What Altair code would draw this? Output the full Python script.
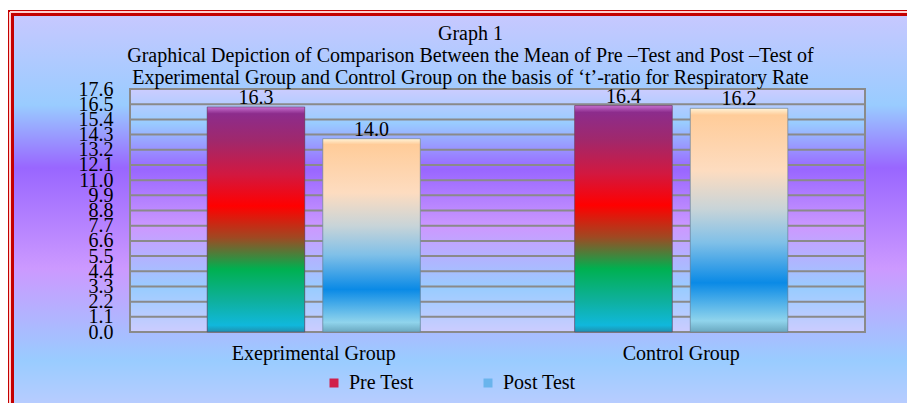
import altair as alt
import pandas as pd

# ---- data ----
groups = ["Exeprimental Group", "Control Group"]
series = ["Pre Test", "Post Test"]
pre_values = [16.3, 16.4]
post_values = [14.0, 16.2]
y_ticks = [0.0, 1.1, 2.2, 3.3, 4.4, 5.5, 6.6, 7.7, 8.8, 9.9, 11.0, 12.1, 13.2, 14.3, 15.4, 16.5, 17.6]
title_lines = [
    "Graph 1",
    "Graphical Depiction of Comparison Between the Mean of Pre \u2013Test and Post \u2013Test of",
    "Experimental Group and Control Group on the basis of \u2018t\u2019-ratio for Respiratory Rate",
]

rows = []
for g, a, b in zip(groups, pre_values, post_values):
    rows.append({"group": g, "series": series[0], "value": a})
    rows.append({"group": g, "series": series[1], "value": b})
df = pd.DataFrame(rows)
grid_df = pd.DataFrame({"value": y_ticks})

FONT = "'Times New Roman', 'Liberation Serif', 'DejaVu Serif', serif"
FS = 20
W, H = 735, 243
PAD = {"left": 122, "top": 81, "right": 42, "bottom": 71}


def grad(stops):
    return alt.LinearGradient(
        gradient="linear", x1=0, x2=0, y1=0, y2=1,
        stops=[alt.GradientStop(offset=o, color=c) for o, c in stops],
    )


outer_grad = grad([(0, "#c8c8ff"), (0.22, "#99ccff"), (0.37, "#9966ff"),
                   (0.61, "#cc99ff"), (0.83, "#99ccff"), (1, "#ccccff")])
plot_grad = grad([(0, "#ccccff"), (0.14, "#99ccff"), (0.33, "#9966ff"),
                  (0.57, "#cc99ff"), (0.82, "#99ccff"), (1, "#ccccff")])
pre_grad = grad([(0, "#c870d0"), (0.03, "#8c2c8c"), (0.15, "#a0286c"), (0.3, "#d21840"),
                 (0.44, "#ff0000"), (0.58, "#a04822"), (0.72, "#00b050"),
                 (0.86, "#0eb09c"), (0.97, "#10b8dc"), (1, "#2090b0")])
post_grad = grad([(0, "#fff4d8"), (0.03, "#ffcc99"), (0.28, "#fddcc0"), (0.45, "#c8d4d8"),
                  (0.6, "#80c0e8"), (0.78, "#0a8ae6"), (0.95, "#90d4ec"), (1, "#6aa8c0")])

x_enc = alt.X("group:N", sort=groups,
              scale=alt.Scale(paddingInner=0.42, paddingOuter=0.21),
              axis=alt.Axis(title=None, labelAngle=0, ticks=False, domain=False,
                            labelFont=FONT, labelFontSize=FS, labelColor="black",
                            labelPadding=11, zindex=1))
xo_enc = alt.XOffset("series:N", sort=series,
                     scale=alt.Scale(paddingInner=0.156, paddingOuter=0))
y_axis = alt.Axis(title=None, values=y_ticks, format=".1f", grid=False, ticks=False,
                  domain=False, labelFont=FONT, labelFontSize=FS, labelColor="black",
                  labelPadding=17, labelOverlap=False, labelFlush=False, labelBound=False,
                  zindex=1)
y_enc = alt.Y("value:Q", scale=alt.Scale(domain=[0, 17.6], nice=False, zero=True), axis=y_axis)

outer_bg = alt.Chart(grid_df).mark_rect(fill=outer_grad, stroke="#c40000", strokeWidth=6).encode(
    x=alt.value(-119), x2=alt.value(W + 100), y=alt.value(-76), y2=alt.value(H + 100)
)
outer_line = alt.Chart(grid_df).mark_rect(fillOpacity=0, stroke="#ffd0d0", strokeWidth=1).encode(
    x=alt.value(-120), x2=alt.value(W + 100), y=alt.value(-77), y2=alt.value(H + 100)
)
plot_bg = alt.Chart(grid_df).mark_rect(fill=plot_grad, stroke="#8a8a8a", strokeWidth=2).encode(
    x=alt.value(0), x2=alt.value(W), y=alt.value(0), y2=alt.value(H)
)
grid = alt.Chart(grid_df).mark_rule(color="#8a8a8a", strokeWidth=2).encode(y=y_enc)

legend_bars = alt.Chart(df).mark_bar().encode(
    x=x_enc, xOffset=xo_enc, y=y_enc,
    color=alt.Color("series:N", sort=series,
                    scale=alt.Scale(domain=series, range=["#d0204a", "#6ab4ec"]),
                    legend=alt.Legend(orient="none", legendX=194, legendY=284,
                                      direction="horizontal", title=None,
                                      symbolType="square", symbolSize=81,
                                      symbolStrokeWidth=0, labelFont=FONT,
                                      labelFontSize=FS, labelColor="black",
                                      labelOffset=5, columnPadding=64, padding=0,
                                      zindex=1)),
)
pre_bars = alt.Chart(df).transform_filter(alt.datum.series == series[0]).mark_bar(
    fill=pre_grad, stroke="#5a4a6a", strokeOpacity=0.6, strokeWidth=1
).encode(x=x_enc, xOffset=xo_enc, y=y_enc)
post_bars = alt.Chart(df).transform_filter(alt.datum.series == series[1]).mark_bar(
    fill=post_grad, stroke="#6a7a8a", strokeOpacity=0.6, strokeWidth=1
).encode(x=x_enc, xOffset=xo_enc, y=y_enc)
labels = alt.Chart(df).mark_text(font=FONT, fontSize=FS, color="black",
                                 baseline="alphabetic", dy=-3).encode(
    x=x_enc, xOffset=xo_enc, y=y_enc, text=alt.Text("value:Q", format=".1f")
)

chart = alt.layer(
    outer_bg, outer_line, plot_bg, grid, legend_bars, pre_bars, post_bars, labels
).properties(
    width=W, height=H,
    autosize=alt.AutoSizeParams(type="none"),
    padding=PAD,
    title=alt.TitleParams(text=title_lines, font=FONT, fontSize=FS, fontWeight="normal",
                          color="black", anchor="middle", dx=-27, offset=-78,
                          lineHeight=22, zindex=1),
).configure_view(stroke=None)

chart.save("out.html", embed_options={"renderer": "svg", "actions": False})
